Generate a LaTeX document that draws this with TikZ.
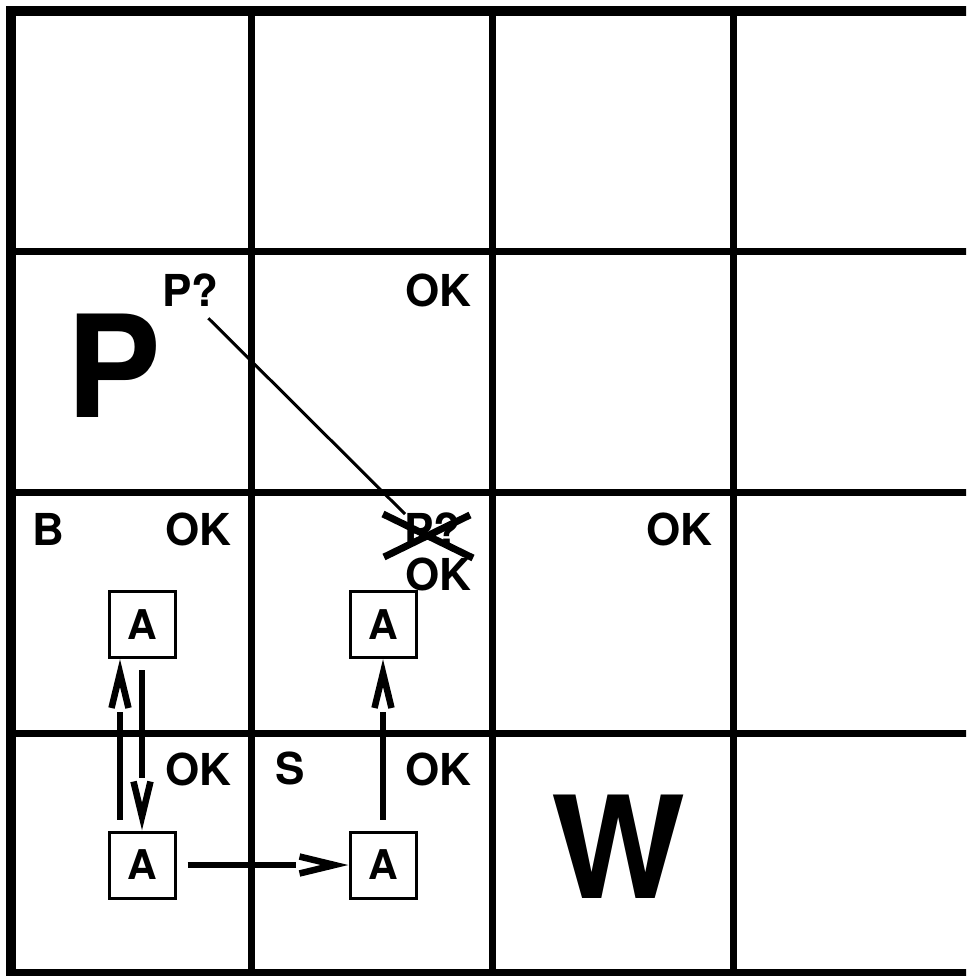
\documentclass[tikz,border=0pt]{standalone}
\usepackage{fontspec}
\setmainfont{TeX Gyre Heros}
\usetikzlibrary{arrows.meta}

% open V head that leaves a small gap before the shaft
\pgfdeclarearrow{
  name = Gap Vee,
  setup code = {
    \pgfarrowssettipend{0pt}
    \pgfarrowssetbackend{-50pt}
    \pgfarrowssetvisualbackend{-50pt}
    \pgfarrowssetlineend{-53pt}
  },
  drawing code = {
    \pgfsetlinewidth{6.5pt}
    \pgfsetmiterjoin
    \pgfsetbuttcap
    \pgfpathmoveto{\pgfqpoint{-49pt}{8.5pt}}
    \pgfpathlineto{\pgfqpoint{-14pt}{0pt}}
    \pgfpathlineto{\pgfqpoint{-49pt}{-8.5pt}}
    \pgfusepathqstroke
  }
}

\begin{document}
\begin{tikzpicture}[
    x=1pt, y=-1pt,
    grid/.style={line width=7pt},
    border/.style={line width=10pt},
    lbl/.style={anchor=base west, inner sep=0pt, font=\fontsize{44}{48}\selectfont\bfseries},
    big/.style={anchor=base west, inner sep=0pt, font=\fontsize{142}{150}\selectfont\bfseries},
    agent/.style={draw, line width=3pt, minimum size=66pt, inner sep=0pt, font=\fontsize{41}{45}\selectfont\bfseries},
    move/.style={line width=6pt, shorten <=11pt, -{Gap Vee}},
    guess/.style={line width=3pt},
    cross/.style={line width=7pt}
  ]
    \useasboundingbox (0,0) rectangle (966,976);
    \clip (0,0) rectangle (966,976);

    % the 4x4 cave
    \foreach \i in {1,2,3} {
      \draw[grid] ({11+240.75*\i},11) -- ({11+240.75*\i},974);
      \draw[grid] (11,{11+240.75*\i}) -- (975,{11+240.75*\i});
    }
    \draw[border] (11,11) rectangle (975,974);

    % percepts and guesses
    \node[lbl] (pq13) at (162,306) {P?};
    \node[lbl] (ok23) at (405,306) {OK};
    \node[big] (pit13) at (66,417) {P};
    \node[lbl] (b12) at (32,545) {B};
    \node[lbl] (ok12) at (165,545) {OK};
    \node[lbl] (pq22) at (404,545) {P?};
    \node[lbl] (ok22) at (405,590) {OK};
    \node[lbl] (ok32) at (646,545) {OK};
    \node[lbl] (ok11) at (165,785) {OK};
    \node[lbl] (s21) at (275,784) {S};
    \node[lbl] (ok21) at (405,785) {OK};
    \node[big] (wum31) at (551,898) {W};

    % agent positions
    \node[agent] (a12) at (142,624.5) {A};
    \node[agent] (a22) at (383,624.5) {A};
    \node[agent] (a11) at (142,865) {A};
    \node[agent] (a21) at (383,865) {A};

    % moves
    \draw[move] ([xshift=-22pt]a11.north) -- ([xshift=-22pt]a12.south);
    \draw[move] (a12.south) -- (a11.north);
    \draw[move] (a11.east) -- (a21.west);
    \draw[move] (a21.north) -- (a22.south);

    % the guess that got ruled out
    \draw[guess] ([shift={(18pt,-12pt)}]pq13.south) -- ([shift={(1pt,-2pt)}]pq22.north west);
    \draw[cross] (383,514) -- (473,558) (384,557) -- (470,515);
  \end{tikzpicture}
\end{document}
